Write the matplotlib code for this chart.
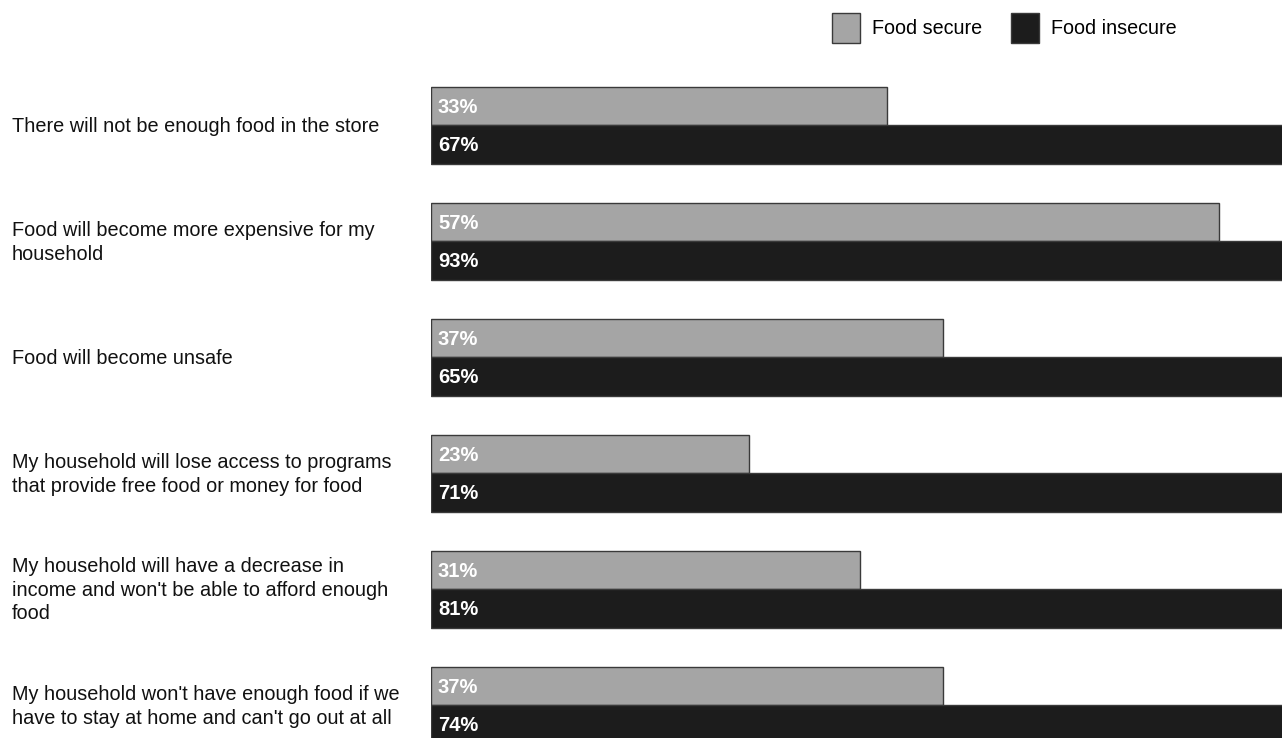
import numpy as np
import matplotlib
matplotlib.use("Agg")
import matplotlib.pyplot as plt
from matplotlib.patches import Patch

plt.rcParams["font.family"] = ["Liberation Sans", "DejaVu Sans"]

# Worries about food, share of respondents by food security status
statements = [
    "There will not be enough food in the store",
    "Food will become more expensive for my\nhousehold",
    "Food will become unsafe",
    "My household will lose access to programs\nthat provide free food or money for food",
    "My household will have a decrease in\nincome and won't be able to afford enough\nfood",
    "My household won't have enough food if we\nhave to stay at home and can't go out at all",
]
food_secure = [33, 57, 37, 23, 31, 37]
food_insecure = [67, 93, 65, 71, 81, 74]

secure_color = "#a5a5a5"
insecure_color = "#1c1c1c"
edge_color = "#3a3a3a"

W, H = 1282, 738
fig = plt.figure(figsize=(W / 100, H / 100), dpi=100)

# axes start where the bars start and run off the right edge of the figure
x0 = 431
px_per_pct = 13.83
xmax = (W - x0) / px_per_pct
ax = fig.add_axes([x0 / W, 0, 1 - x0 / W, 1])

pitch = 116.0
first_mid = 125.3
ax.set_xlim(0, xmax)
ax.set_ylim((H - first_mid) / pitch, -first_mid / pitch)

y = np.arange(len(statements))
h = 0.332
ax.barh(y - h / 2, food_secure, height=h, color=secure_color,
        edgecolor=edge_color, linewidth=1.0)
ax.barh(y + h / 2, food_insecure, height=h, color=insecure_color,
        edgecolor=edge_color, linewidth=1.0)

pad = 0.5
for i, (s, ins) in enumerate(zip(food_secure, food_insecure)):
    ax.text(pad, i - h / 2 + 0.01, f"{s}%", color="white", fontsize=14.5,
            fontweight="bold", va="center", ha="left")
    ax.text(pad, i + h / 2 + 0.01, f"{ins}%", color="white", fontsize=14.5,
            fontweight="bold", va="center", ha="left")

# statement labels at the left
for i, label in enumerate(statements):
    ty = 1 - (first_mid + 1 + i * pitch) / H
    fig.text(12 / W, ty, label, fontsize=14.3, color="#111111",
             ha="left", va="center", linespacing=1.3)

ax.axis("off")

handles = [
    Patch(facecolor=secure_color, edgecolor=edge_color, linewidth=1.0,
          label="Food secure"),
    Patch(facecolor=insecure_color, edgecolor=edge_color, linewidth=1.0,
          label="Food insecure"),
]
fig.legend(handles=handles, loc="upper left",
           bbox_to_anchor=(832 / W, 1 - 13 / H), ncol=2, frameon=False,
           fontsize=14.2, handlelength=1.42, handleheight=2.0,
           handletextpad=0.62, columnspacing=1.45, borderpad=0,
           borderaxespad=0)

fig.savefig("out.png", dpi=100)
